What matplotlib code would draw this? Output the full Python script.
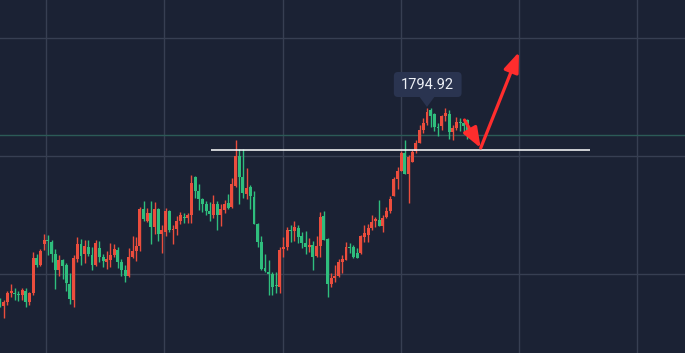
import matplotlib.pyplot as plt
import numpy as np
from matplotlib.patches import FancyBboxPatch, Polygon

opens = [1775.8, 1775.2, 1775.6, 1776.5, 1776.5, 1776.4, 1776.3, 1776.7, 1775.6, 1776.5,
         1780.0, 1779.3, 1781.4, 1781.8, 1781.6, 1780.4, 1778.8, 1779.8, 1779.3, 1777.4,
         1775.8, 1779.9, 1781.4, 1780.4, 1781.1, 1780.3, 1779.3, 1781.0, 1780.1, 1779.6,
         1779.8, 1780.3, 1780.8, 1779.6, 1778.8, 1778.2, 1780.1, 1780.7, 1781.2, 1784.9,
         1783.7, 1784.5, 1783.1, 1784.9, 1782.4, 1782.6, 1784.7, 1782.8, 1782.9, 1783.7,
         1784.1, 1784.0, 1784.3, 1788.1, 1786.7, 1785.9, 1785.4, 1784.7, 1784.3, 1785.4,
         1784.3, 1784.8, 1785.5, 1785.1, 1787.2, 1790.2, 1788.1, 1786.4, 1787.1, 1786.1,
         1783.4, 1781.6, 1779.0, 1778.6, 1778.4, 1777.3, 1777.1, 1780.9, 1781.1, 1782.8,
         1782.7, 1783.0, 1782.2, 1781.5, 1781.1, 1781.3, 1780.2, 1781.2, 1784.2, 1781.9,
         1777.4, 1778.0, 1778.2, 1779.6, 1779.8, 1781.1, 1781.1, 1780.5, 1780.5, 1782.1,
         1782.3, 1783.0, 1783.7, 1783.8, 1783.2, 1784.1, 1784.7, 1786.2, 1787.9, 1788.7,
         1790.5, 1788.4, 1789.6, 1790.7, 1791.5, 1792.8, 1793.5, 1794.8, 1794.4, 1793.1,
         1793.2, 1794.2, 1794.4, 1792.6, 1793.0, 1793.6, 1793.5, 1793.8]
highs = [1776.0, 1775.8, 1776.7, 1777.4, 1777.0, 1776.7, 1777.0, 1777.0, 1776.6, 1780.6,
         1780.4, 1780.9, 1782.4, 1782.3, 1781.8, 1780.9, 1780.3, 1779.9, 1779.5, 1778.5,
         1780.3, 1782.1, 1781.9, 1781.8, 1781.8, 1781.1, 1781.8, 1781.7, 1780.4, 1780.7,
         1781.5, 1781.4, 1781.1, 1779.9, 1779.3, 1781.0, 1782.2, 1782.1, 1785.1, 1785.7,
         1785.0, 1785.7, 1785.6, 1785.0, 1783.3, 1785.0, 1784.8, 1783.3, 1784.2, 1784.6,
         1784.5, 1784.5, 1788.3, 1788.2, 1787.4, 1786.0, 1785.7, 1785.6, 1786.3, 1785.7,
         1785.4, 1785.8, 1786.4, 1788.0, 1791.8, 1790.9, 1790.9, 1789.0, 1787.3, 1786.7,
         1783.5, 1782.2, 1780.4, 1779.8, 1778.6, 1778.6, 1781.1, 1782.1, 1783.1, 1783.3,
         1783.7, 1783.3, 1782.6, 1782.7, 1782.0, 1781.7, 1782.2, 1784.6, 1784.7, 1782.0,
         1778.5, 1779.3, 1779.9, 1780.3, 1781.6, 1781.5, 1781.3, 1781.0, 1782.3, 1783.3,
         1783.4, 1784.3, 1784.1, 1785.8, 1784.3, 1785.1, 1786.2, 1788.1, 1789.1, 1790.7,
         1791.8, 1790.3, 1790.8, 1791.8, 1793.3, 1794.0, 1795.0, 1795.0, 1794.5, 1793.5,
         1794.3, 1795.0, 1794.8, 1793.3, 1794.1, 1794.0, 1793.7, 1793.9]
lows = [1775.1, 1774.0, 1775.3, 1776.1, 1775.8, 1775.7, 1775.8, 1775.1, 1775.3, 1776.3,
        1779.1, 1779.2, 1780.8, 1780.3, 1779.6, 1776.9, 1778.2, 1777.9, 1776.7, 1775.4,
        1775.1, 1779.6, 1779.3, 1779.5, 1780.2, 1778.8, 1779.2, 1779.6, 1779.1, 1778.9,
        1779.1, 1780.1, 1779.0, 1778.2, 1777.6, 1778.1, 1780.0, 1779.7, 1780.7, 1783.7,
        1783.6, 1781.4, 1782.4, 1781.7, 1780.5, 1782.2, 1782.6, 1781.4, 1782.3, 1783.4,
        1783.5, 1783.5, 1783.5, 1786.0, 1784.8, 1784.6, 1784.3, 1783.7, 1784.0, 1782.8,
        1783.2, 1784.5, 1784.9, 1785.0, 1787.1, 1785.4, 1786.0, 1785.9, 1784.9, 1783.4,
        1781.1, 1778.8, 1778.6, 1776.3, 1776.3, 1776.5, 1776.5, 1780.1, 1780.8, 1781.6,
        1781.7, 1781.5, 1781.0, 1780.4, 1780.6, 1778.8, 1780.1, 1780.1, 1781.8, 1776.1,
        1777.1, 1777.6, 1778.1, 1778.5, 1779.8, 1780.5, 1780.0, 1780.0, 1780.4, 1781.6,
        1781.6, 1782.8, 1783.1, 1783.2, 1782.6, 1784.0, 1784.5, 1786.2, 1786.9, 1788.7,
        1788.4, 1785.5, 1789.6, 1790.5, 1791.5, 1792.5, 1793.3, 1793.1, 1792.7, 1792.2,
        1792.8, 1793.7, 1791.9, 1791.8, 1792.8, 1792.7, 1792.4, 1791.9]
closes = [1775.3, 1775.6, 1776.5, 1776.7, 1776.4, 1776.3, 1776.8, 1775.6, 1776.5, 1780.0,
          1779.3, 1780.7, 1781.8, 1781.7, 1780.4, 1778.8, 1779.8, 1779.2, 1777.5, 1775.9,
          1780.0, 1781.4, 1780.2, 1781.2, 1780.4, 1779.3, 1781.5, 1780.1, 1779.7, 1779.9,
          1780.3, 1780.9, 1779.6, 1778.8, 1778.2, 1780.1, 1780.7, 1781.2, 1784.9, 1783.9,
          1784.5, 1783.1, 1784.9, 1782.4, 1782.8, 1784.7, 1782.8, 1782.9, 1783.7, 1784.3,
          1784.0, 1784.3, 1787.5, 1786.7, 1785.9, 1785.4, 1784.7, 1784.4, 1785.4, 1784.3,
          1784.9, 1785.4, 1785.0, 1787.4, 1790.2, 1788.1, 1786.5, 1787.0, 1786.2, 1783.4,
          1781.6, 1778.9, 1778.7, 1778.4, 1777.1, 1777.2, 1780.8, 1781.1, 1782.8, 1782.7,
          1783.1, 1782.1, 1781.5, 1781.1, 1781.3, 1780.1, 1781.2, 1784.1, 1781.8, 1777.4,
          1778.0, 1778.2, 1779.6, 1779.9, 1781.1, 1781.0, 1780.1, 1780.0, 1782.2, 1782.5,
          1783.0, 1783.6, 1783.9, 1783.2, 1784.0, 1784.7, 1785.9, 1787.9, 1788.7, 1790.5,
          1788.4, 1790.1, 1790.6, 1791.5, 1792.8, 1793.5, 1794.6, 1794.2, 1793.1, 1793.0,
          1794.2, 1794.5, 1792.6, 1793.0, 1793.6, 1793.5, 1793.2, 1792.3]

# level line, label and the two arrow legs (bar index, price)
level_price = 1790.8
level_span = (57.3, 160.3)
label_text = "1794.92"
label_bar = 116.0
label_price = 1795.1
arrow_down = ((126.2, 1793.8), (130.6, 1791.0))
arrow_up = ((130.6, 1791.0), (141.0, 1800.6))
grid_x = [12.5, 44.6, 76.9, 109.0, 141.0, 173.1]
grid_y = [1778.4, 1790.2, 1802.0]

BG = "#1b2234"
UP = "#eb4d3d"
DOWN = "#2fbe7d"
GRID = "#373f52"

fig = plt.figure(figsize=(6.85, 3.53), dpi=100, facecolor=BG)
ax = fig.add_axes([0, 0, 1, 1], facecolor=BG)
ax.set_xlim(0, 186.1)
ax.set_ylim(1770.5, 1805.8)
for s in ax.spines.values():
    s.set_visible(False)
ax.set_xticks(grid_x)
ax.set_yticks(grid_y)
ax.tick_params(length=0, labelbottom=False, labelleft=False)
ax.grid(True, color=GRID, lw=1, zorder=0)
ax.set_axisbelow(True)

o = np.array(opens)
h = np.array(highs)
l = np.array(lows)
c = np.array(closes)
x = np.arange(len(o))
colors = np.where(c >= o, UP, DOWN)

ax.axhline(c[-1], color="#2c5b57", lw=1, zorder=1)

ax.vlines(x, l, h, colors=colors, lw=1, zorder=2)
body = np.maximum(np.abs(c - o), 0.12)
ax.bar(x, body, bottom=np.minimum(o, c), width=0.8, color=colors, zorder=3)

ax.hlines(level_price, level_span[0], level_span[1], color="white", lw=1.1, zorder=4)

# price tag with little pointer
bw, bh = 18.4, 2.5
box_bottom = label_price + 1.0
tag = FancyBboxPatch((label_bar + 0.2 - bw / 2, box_bottom), bw, bh,
                     boxstyle="round,pad=0,rounding_size=1.1", mutation_aspect=0.37,
                     fc="#2a3450", ec="none", zorder=5)
ax.add_patch(tag)
ax.add_patch(Polygon([(label_bar - 2.0, box_bottom), (label_bar + 2.0, box_bottom),
                      (label_bar, label_price)], closed=True, fc="#2a3450", ec="none", zorder=5))
ax.text(label_bar + 0.2, box_bottom + bh / 2 - 0.05, label_text, color="#eef1f6", fontsize=10.5,
        family="Roboto", ha="center", va="center", zorder=6)

for start, end in (arrow_down, arrow_up):
    ax.annotate("", xy=end, xytext=start,
                arrowprops=dict(arrowstyle="-|>,head_length=1.0,head_width=0.38",
                                color="#ff2d2d", lw=2.3, mutation_scale=12,
                                shrinkA=0, shrinkB=0),
                zorder=7)

fig.savefig("out.png", dpi=100, facecolor=BG)
